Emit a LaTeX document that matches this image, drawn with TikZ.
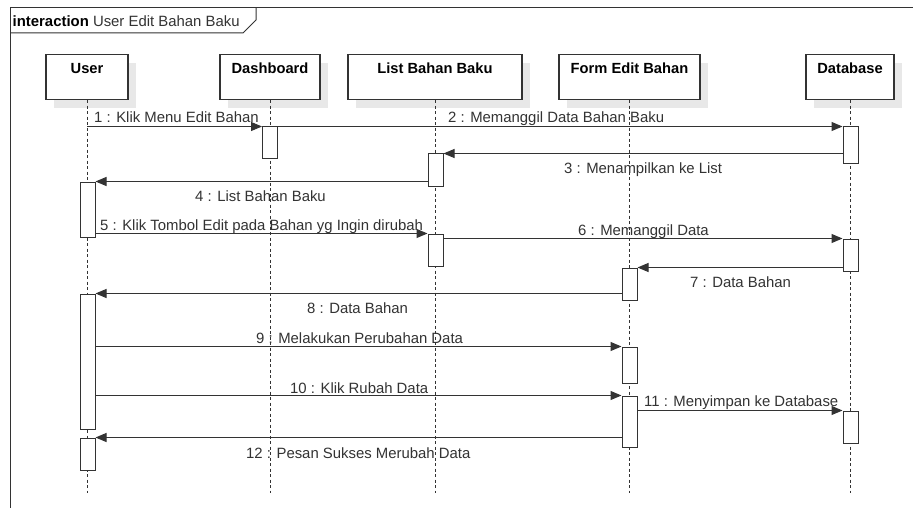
\documentclass[tikz,border=0pt]{standalone}
\usepackage{fontspec}
\setmainfont{Liberation Sans}
\usetikzlibrary{arrows.meta,shadows}
\definecolor{ink}{HTML}{333333}
\definecolor{shade}{HTML}{E8E8E8}
\begin{document}
\begin{tikzpicture}[x=1pt,y=-1pt,
  every node/.style={font=\fontsize{14.9}{17}\selectfont, text=ink},
  headbox/.style={draw=ink, line width=1.1pt, fill=white, minimum height=45pt, inner sep=0pt, anchor=north,
    general shadow={fill=shade, shadow xshift=8pt, shadow yshift=-8pt}},
  headtext/.style={anchor=base, inner sep=0pt, text=black, font=\fontsize{14.7}{17}\selectfont\bfseries},
  actbox/.style={draw=ink, line width=1pt, fill=white, minimum width=15pt, inner sep=0pt},
  msg/.style={draw=ink, line width=1pt, -{Triangle[length=11pt,width=9pt]}},
  lifeline/.style={draw=ink, line width=1pt, dash pattern=on 3pt off 2.5pt},
  lbl/.style={anchor=base west, inner sep=0pt}]
\useasboundingbox (0,0) rectangle (913,508);
\clip (0,0) rectangle (913,508);
\fill[white] (0,0) rectangle (913,508);

% frame
\draw[ink, line width=1pt] (10,8) rectangle (960,560);
\draw[ink, line width=1pt] (10,33) -- (243,33) -- (256,20) -- (256,8);
\node[lbl, text=black] (ftitle) at (12.5,26.5) {\textbf{interaction} \color{ink}User Edit Bahan Baku};

% bottom of lifelines
\coordinate (bot) at (0,493);

% heads
\node[headbox, minimum width=82pt]  (userh) at (87,54) {};
\node[headbox, minimum width=100pt] (dashh) at (270,54) {};
\node[headbox, minimum width=174pt] (listh) at (435,54) {};
\node[headbox, minimum width=141pt] (formh) at (629.5,54) {};
\node[headbox, minimum width=88pt]  (dbh)   at (850,54) {};

% lifelines
\draw[lifeline] (userh.south) -- (userh.south |- bot);
\draw[lifeline] (dashh.south) -- (dashh.south |- bot);
\draw[lifeline] (listh.south) -- (listh.south |- bot);
\draw[lifeline] (formh.south) -- (formh.south |- bot);
\draw[lifeline] (dbh.south) -- (dbh.south |- bot);

\node[headtext] (usert) at (87,74) {User};
\node[headtext] (dasht) at (270,74) {Dashboard};
\node[headtext] (listt) at (435,74) {List Bahan Baku};
\node[headtext] (formt) at (629.5,74) {Form Edit Bahan};
\node[headtext] (dbt)   at (850,74) {Database};

% activations
\node[actbox, minimum height=32pt]  (d1)  at (270,143) {};
\node[actbox, minimum height=37pt]  (db1) at (850.5,145.5) {};
\node[actbox, minimum height=32pt]  (l1)  at (435.5,170) {};
\node[actbox, minimum height=55pt]  (u1)  at (87.5,209.5) {};
\node[actbox, minimum height=32pt]  (l2)  at (435.5,250) {};
\node[actbox, minimum height=32pt]  (db2) at (850.5,255) {};
\node[actbox, minimum height=32pt]  (f1)  at (629.5,284) {};
\node[actbox, minimum height=135pt] (u2)  at (87.5,361.5) {};
\node[actbox, minimum height=36pt]  (f2)  at (629.5,365) {};
\node[actbox, minimum height=51pt]  (f3)  at (629.5,421.5) {};
\node[actbox, minimum height=32pt]  (db3) at (850.5,427) {};
\node[actbox, minimum height=32pt]  (u3)  at (87.5,454) {};

% messages
\draw[msg] (userh.south |- d1.north) -- (d1.north west);
\draw[msg] (d1.north east) -- (db1.north west);
\draw[msg] (db1.west |- l1.north) -- (l1.north east);
\draw[msg] (l1.west |- u1.north) -- (u1.north east);
\draw[msg] (u1.east |- l2.north) -- (l2.north west);
\draw[msg] (l2.east |- db2.north) -- (db2.north west);
\draw[msg] (db2.west |- f1.north) -- (f1.north east);
\draw[msg] (f1.west |- u2.north) -- (u2.north east);
\draw[msg] (u2.east |- f2.north) -- (f2.north west);
\draw[msg] (u2.east |- f3.north) -- (f3.north west);
\draw[msg] (f3.east |- db3.north) -- (db3.north west);
\draw[msg] (f3.west |- u3.north) -- (u3.north east);

% labels
\node[lbl] (t1)  at (94,123)    {1 : Klik Menu Edit Bahan};
\node[lbl] (t2)  at (448,123)   {2 : Memanggil Data Bahan Baku};
\node[lbl] (t3)  at (564,173)   {3 : Menampilkan ke List};
\node[lbl] (t4)  at (195,201.5) {4 : List Bahan Baku};
\node[lbl] (t5)  at (100,230)   {5 : Klik Tombol Edit pada Bahan yg Ingin dirubah};
\node[lbl] (t6)  at (578,235)   {6 : Memanggil Data};
\node[lbl] (t7)  at (690,287)   {7 : Data Bahan};
\node[lbl] (t8)  at (307,313)   {8 : Data Bahan};
\node[lbl] (t9)  at (256,343)   {9 : Melakukan Perubahan Data};
\node[lbl] (t10) at (290,393)   {10 : Klik Rubah Data};
\node[lbl] (t11) at (644,406.5) {11 : Menyimpan ke Database};
\node[lbl] (t12) at (246,458)   {12 : Pesan Sukses Merubah Data};
\end{tikzpicture}
\end{document}
